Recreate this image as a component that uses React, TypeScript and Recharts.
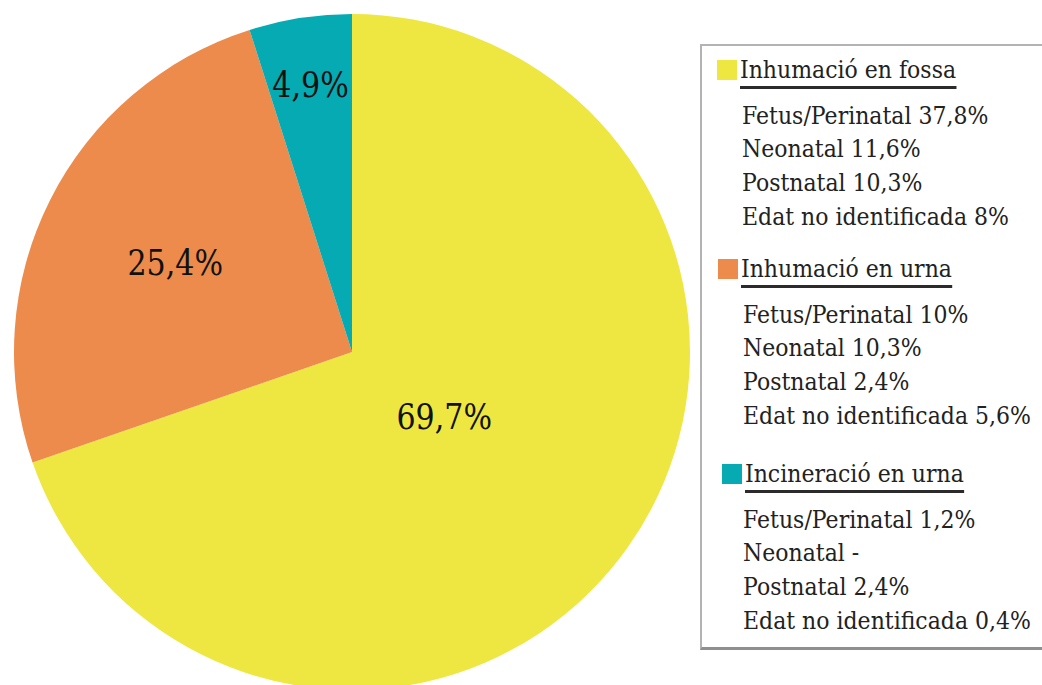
import { PieChart, Pie, Cell } from "recharts";

const categories = ["Inhumació en fossa", "Inhumació en urna", "Incineració en urna"];
const shares = [69.7, 25.4, 4.9];
const ageGroups = ["Fetus/Perinatal", "Neonatal", "Postnatal", "Edat no identificada"];
const fossaByAge = [37.8, 11.6, 10.3, 8];
const urnaByAge = [10, 10.3, 2.4, 5.6];
const incineracioByAge = [1.2, null, 2.4, 0.4];

const breakdown = [fossaByAge, urnaByAge, incineracioByAge];
const COLORS = ["#eee741", "#ec8b4b", "#05aab3"];
const FONT = "'DejaVu Serif', serif";
// DejaVu Serif is wider than the Times face of the original, squeeze it a bit
const SQUEEZE = 0.88;

const fmt = (v: number | null) => (v == null ? "-" : `${String(v).replace(".", ",")}%`);

const data = categories.map((name, i) => ({ name, value: shares[i] }));

// how far out along the radius each slice label sits
const LABEL_RADIUS = [0.335, 0.585, 0.8];
const RAD = Math.PI / 180;

function SliceLabel(props: any) {
  const { cx, cy, midAngle, outerRadius, index, value } = props;
  const r = outerRadius * LABEL_RADIUS[index];
  const x = cx + r * Math.cos(-midAngle * RAD);
  const y = cy + r * Math.sin(-midAngle * RAD);
  return (
    <text
      x={0}
      y={0}
      transform={`translate(${x},${y}) scale(0.86,1)`}
      fill="#111"
      fontSize={35}
      style={{ fontFamily: FONT }}
      textAnchor="middle"
      dominantBaseline="central"
    >
      {fmt(value)}
    </text>
  );
}

// legend layout (baselines in px)
const HEADER_BASE = [78, 277, 482];
const GROUP_SHIFT = [0, 1, 5];
const LINE_GAP = 33.6;
const FS = 25;
const ASC = 21.2;

const textStyle = {
  position: "absolute" as const,
  fontSize: FS,
  lineHeight: `${FS}px`,
  color: "#222",
  whiteSpace: "nowrap" as const,
  transform: `scaleX(${SQUEEZE})`,
  transformOrigin: "0 0",
};

function LegendBox() {
  return (
    <>
      <div
        style={{
          position: "absolute",
          left: 700,
          top: 44,
          width: 400,
          height: 601,
          border: "2px solid #b3b3b3",
          borderBottom: "3px solid #8f8f8f",
          background: "#fff",
        }}
      />
      {categories.map((cat, g) => {
        const base = HEADER_BASE[g];
        const sx = GROUP_SHIFT[g];
        return (
          <div key={cat}>
            <div
              style={{
                position: "absolute",
                left: 717 + sx,
                top: base - 18,
                width: 20,
                height: 20,
                background: COLORS[g],
              }}
            />
            <div
              style={{
                ...textStyle,
                left: 740 + sx,
                top: base - ASC,
                paddingBottom: 4,
                borderBottom: "3px solid #2b2b2b",
              }}
            >
              {cat}
            </div>
            {ageGroups.map((age, i) => (
              <div
                key={age}
                style={{
                  ...textStyle,
                  left: 742 + Math.min(sx, 1),
                  top: base + 46 + i * LINE_GAP - ASC,
                }}
              >
                {`${age} ${fmt(breakdown[g][i])}`}
              </div>
            ))}
          </div>
        );
      })}
    </>
  );
}

export default function App() {
  return (
    <div
      style={{
        position: "fixed",
        left: 0,
        top: 0,
        width: 1042,
        height: 685,
        overflow: "hidden",
        background: "#fff",
        fontFamily: FONT,
      }}
    >
      <PieChart width={1042} height={685} margin={{ top: 0, right: 0, bottom: 0, left: 0 }}>
        <Pie
          data={data}
          dataKey="value"
          nameKey="name"
          cx={352}
          cy={352}
          outerRadius={338}
          startAngle={90}
          endAngle={-270}
          stroke="none"
          labelLine={false}
          label={SliceLabel}
          isAnimationActive={false}
        >
          {data.map((d, i) => (
            <Cell key={d.name} fill={COLORS[i]} />
          ))}
        </Pie>
      </PieChart>
      <LegendBox />
    </div>
  );
}
